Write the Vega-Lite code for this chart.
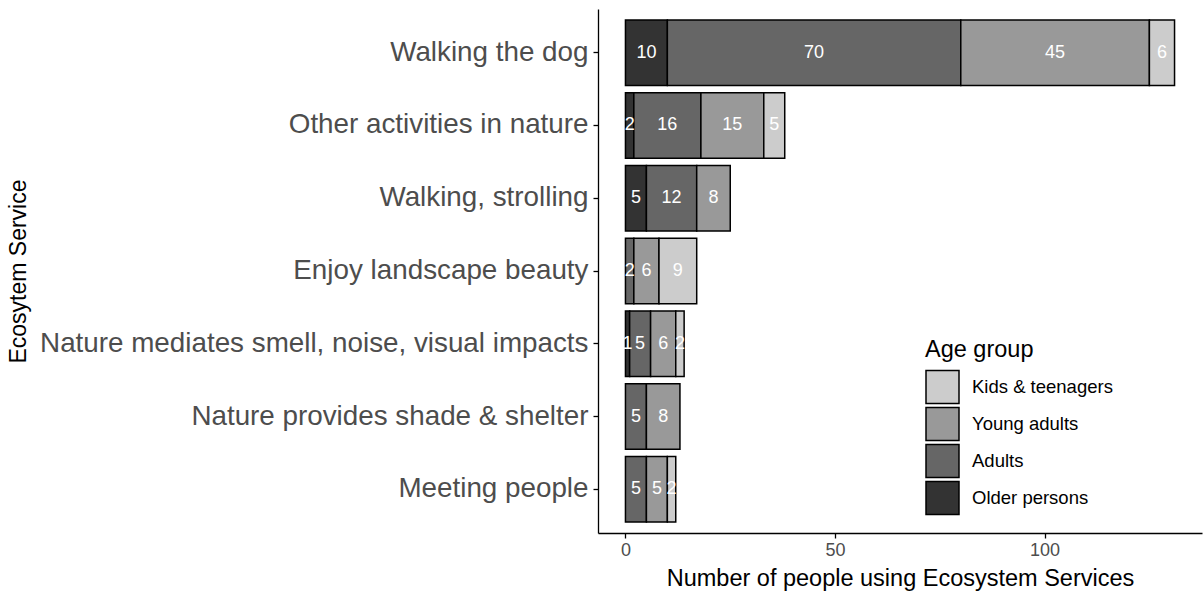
{
  "$schema": "https://vega.github.io/schema/vega-lite/v6.json",
  "width": 604,
  "height": 524,
  "autosize": {"type": "none"},
  "padding": {"left": 598, "top": 9, "right": 1, "bottom": 62},
  "background": "white",
  "config": {
    "view": {"stroke": null},
    "font": "Liberation Sans",
    "axis": {"grid": false, "domainColor": "black", "tickColor": "black", "domainWidth": 1.3, "tickWidth": 1.3, "labelColor": "#4d4d4d", "titleColor": "black", "titleFontWeight": "normal", "labelFont": "Liberation Sans", "titleFont": "Liberation Sans"},
    "legend": {"labelFont": "Liberation Sans", "titleFont": "Liberation Sans"}
  },
  "data": {
    "values": [
      {"service": "Walking the dog", "age": "Older persons", "n": 10},
      {"service": "Walking the dog", "age": "Adults", "n": 70},
      {"service": "Walking the dog", "age": "Young adults", "n": 45},
      {"service": "Walking the dog", "age": "Kids & teenagers", "n": 6},
      {"service": "Other activities in nature", "age": "Older persons", "n": 2},
      {"service": "Other activities in nature", "age": "Adults", "n": 16},
      {"service": "Other activities in nature", "age": "Young adults", "n": 15},
      {"service": "Other activities in nature", "age": "Kids & teenagers", "n": 5},
      {"service": "Walking, strolling", "age": "Older persons", "n": 5},
      {"service": "Walking, strolling", "age": "Adults", "n": 12},
      {"service": "Walking, strolling", "age": "Young adults", "n": 8},
      {"service": "Enjoy landscape beauty", "age": "Adults", "n": 2},
      {"service": "Enjoy landscape beauty", "age": "Young adults", "n": 6},
      {"service": "Enjoy landscape beauty", "age": "Kids & teenagers", "n": 9},
      {"service": "Nature mediates smell, noise, visual impacts", "age": "Older persons", "n": 1},
      {"service": "Nature mediates smell, noise, visual impacts", "age": "Adults", "n": 5},
      {"service": "Nature mediates smell, noise, visual impacts", "age": "Young adults", "n": 6},
      {"service": "Nature mediates smell, noise, visual impacts", "age": "Kids & teenagers", "n": 2},
      {"service": "Nature provides shade & shelter", "age": "Adults", "n": 5},
      {"service": "Nature provides shade & shelter", "age": "Young adults", "n": 8},
      {"service": "Meeting people", "age": "Adults", "n": 5},
      {"service": "Meeting people", "age": "Young adults", "n": 5},
      {"service": "Meeting people", "age": "Kids & teenagers", "n": 2}
    ]
  },
  "transform": [
    {"calculate": "indexof(['Older persons','Adults','Young adults','Kids & teenagers'], datum.age)", "as": "ord"},
    {"stack": "n", "groupby": ["service"], "sort": [{"field": "ord", "order": "ascending"}], "as": ["x0", "x1"]},
    {"calculate": "(datum.x0 + datum.x1) / 2", "as": "xmid"}
  ],
  "encoding": {
    "y": {
      "field": "service", "type": "nominal",
      "sort": ["Walking the dog", "Other activities in nature", "Walking, strolling", "Enjoy landscape beauty", "Nature mediates smell, noise, visual impacts", "Nature provides shade & shelter", "Meeting people"],
      "scale": {"paddingInner": 0.1, "paddingOuter": 0.15},
      "axis": {"title": "Ecosytem Service", "labelFontSize": 27.8, "titleFontSize": 23, "tickSize": 5, "labelPadding": 5, "labelLimit": 700, "titleX": -580, "titleY": 262, "titleAngle": -90, "titleAlign": "center", "titleBaseline": "middle", "titleAnchor": null}
    }
  },
  "layer": [
    {
      "mark": {"type": "bar", "stroke": "black", "strokeWidth": 1.5},
      "encoding": {
        "x": {"field": "x0", "type": "quantitative",
          "scale": {"domain": [-6.55, 137.55], "nice": false, "zero": false},
          "axis": {"title": "Number of people using Ecosystem Services", "values": [0, 50, 100], "labelFontSize": 18, "titleFontSize": 23.5, "tickSize": 5, "labelPadding": 3, "titlePadding": 7}},
        "x2": {"field": "x1"},
        "fill": {
          "field": "age", "type": "nominal",
          "scale": {"domain": ["Kids & teenagers", "Young adults", "Adults", "Older persons"], "range": ["#cccccc", "#999999", "#666666", "#333333"]},
          "legend": {"title": "Age group", "orient": "none", "legendX": 327, "legendY": 329, "titleFontSize": 23.5, "titleFontWeight": "normal", "titleColor": "black", "labelFontSize": 18.5, "labelColor": "black", "symbolType": "square", "symbolSize": 1089, "symbolStrokeColor": "black", "symbolStrokeWidth": 1.5, "labelOffset": 12, "rowPadding": -4, "titlePadding": 8}
        }
      }
    },
    {
      "mark": {"type": "text", "color": "white", "fontSize": 18, "align": "center", "baseline": "middle"},
      "encoding": {
        "x": {"field": "xmid", "type": "quantitative"},
        "text": {"field": "n", "type": "quantitative"}
      }
    }
  ]
}
